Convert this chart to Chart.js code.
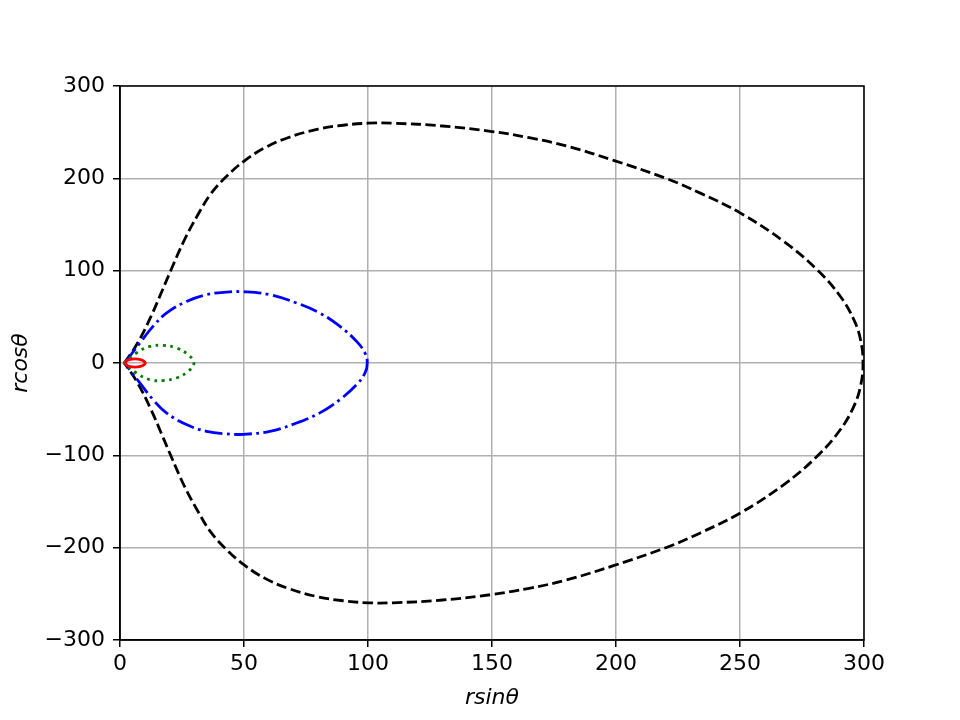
<!DOCTYPE html>
<html>
<head>
<meta charset="utf-8">
<script src="https://cdn.jsdelivr.net/npm/chart.js@4/dist/chart.umd.min.js"></script>
<style>
  html, body { margin: 0; padding: 0; background: #fff; }
  #wrap { width: 960px; height: 720px; }
</style>
</head>
<body>
<div id="wrap"><canvas id="c" width="960" height="720"></canvas></div>
<script>
// courbes r·sinθ / r·cosθ (moitié haute puis moitié basse)

const blackX = [1.8, 7.1, 12.5, 16.6, 20.6, 26, 31.4, 36.7, 43.5, 50.2, 58.3, 67.7, 79.8, 90, 100, 110, 130, 150, 165, 180, 199, 220.6, 234, 250.2, 267.7, 281.1, 290.5, 295.9, 298.6, 299.6,
                298.6, 295.9, 290.5, 281.1, 267.7, 250.2, 234, 220.6, 199, 180, 165, 150, 130, 110, 100, 90, 79.8, 67.7, 58.3, 50.2, 43.5, 36.7, 31.4, 26, 20.6, 16.6, 12.5, 7.1, 1.8];
const blackY = [0, 21.6, 50.4, 75.8, 101, 133.5, 160.5, 183.5, 203.5, 219, 233, 244, 253.2, 257.5, 259.7, 259.7, 256.7, 250.7, 244, 235, 219.5, 199.5, 184, 162.3, 131.6, 101, 72, 46.9, 25.2, 0,
                -25.2, -46.9, -72, -101, -131.6, -162.3, -184, -199.5, -219.5, -235, -244, -250.7, -256.7, -259.7, -259.7, -257.5, -253.2, -244, -233, -219, -203.5, -183.5, -160.5, -133.5, -101, -75.8, -50.4, -21.6, 0];

const blueX = [1.9, 8, 13.3, 18.7, 26.8, 34.9, 42.9, 49.7, 60.4, 71.2, 80.6, 88.7, 95.4, 98.8, 99.7,
               98.8, 95.4, 88.7, 80.6, 71.2, 60.4, 49.7, 42.9, 34.9, 26.8, 18.7, 13.3, 8, 1.9];
const blueY = [0, 21.6, 39.6, 54, 66.7, 74, 76.8, 77.2, 74, 65, 54, 39.6, 23.4, 10.8, 0,
               -10.8, -23.4, -39.6, -54, -65, -74, -77.2, -76.8, -74, -66.7, -54, -39.6, -21.6, 0];

const greenX = [1.5, 6.6, 12, 17.4, 22.8, 27.5, 29.8, 27.5, 22.8, 17.4, 12, 6.6, 1.5];
const greenY = [0, 10.8, 18, 19, 16.2, 9, 0, -9, -16.2, -19, -18, -10.8, 0];

const redX = [2, 3, 5, 7, 9, 10.2, 9, 7, 5, 3, 2];
const redY = [0, 3, 4.3, 4.3, 3, 0, -3, -4.3, -4.3, -3, 0];

const xTicks = [0, 50, 100, 150, 200, 250, 300];
const yTicks = [-300, -200, -100, 0, 100, 200, 300];

const pts = (xs, ys) => xs.map((x, i) => ({ x: x, y: ys[i] }));
const FONT = 'DejaVu Sans';

// cadre complet (haut + droite) comme matplotlib
const frame = {
  id: 'frame',
  afterDatasetsDraw(chart) {
    const a = chart.chartArea, ctx = chart.ctx;
    ctx.save();
    ctx.strokeStyle = '#000';
    ctx.lineWidth = 1.5;
    ctx.strokeRect(a.left, a.top, a.right - a.left, a.bottom - a.top);
    ctx.restore();
  }
};

const line = (data, color, dash) => ({
  data: data,
  showLine: true,
  borderColor: color,
  borderWidth: 2.8,
  borderDash: dash,
  pointRadius: 0,
  tension: 0.4,
  fill: false
});

new Chart(document.getElementById('c'), {
  type: 'scatter',
  data: {
    datasets: [
      line(pts(redX, redY), '#ff0000', []),
      line(pts(greenX, greenY), '#008000', [2.8, 4.6]),
      line(pts(blueX, blueY), '#0000ff', [17.8, 4.4, 2.8, 4.4]),
      line(pts(blackX, blackY), '#000000', [10.3, 4.4])
    ]
  },
  options: {
    responsive: false,
    animation: false,
    layout: { padding: { top: 86, right: 96, left: 0, bottom: 0 } },
    plugins: { legend: { display: false }, tooltip: { enabled: false } },
    scales: {
      x: {
        type: 'linear',
        min: 0, max: 300,
        afterFit: s => { s.height = 80; },
        afterBuildTicks: s => { s.ticks = xTicks.map(v => ({ value: v })); },
        ticks: { color: '#000', font: { family: FONT, size: 22 }, padding: 4, maxRotation: 0 },
        grid: { color: '#b0b0b0', lineWidth: 1.5, tickColor: '#000', tickLength: 7, tickWidth: 1.5 },
        border: { display: true, color: '#000', width: 1.5 },
        title: { display: true, text: 'rsinθ', color: '#000', font: { family: FONT, size: 22, style: 'italic' }, padding: { top: 0, bottom: 9 } }
      },
      y: {
        type: 'linear',
        min: -300, max: 300,
        afterFit: s => { s.width = 120; },
        afterBuildTicks: s => { s.ticks = yTicks.map(v => ({ value: v })); },
        ticks: { color: '#000', font: { family: FONT, size: 22 }, padding: 8,
                 callback: v => String(v).replace('-', '\u2212') },
        grid: { color: '#b0b0b0', lineWidth: 1.5, tickColor: '#000', tickLength: 7, tickWidth: 1.5 },
        border: { display: true, color: '#000', width: 1.5 },
        title: { display: true, text: 'rcosθ', color: '#000', font: { family: FONT, size: 22, style: 'italic' }, padding: { top: 8, bottom: 0 } }
      }
    }
  },
  plugins: [frame]
});
</script>
</body>
</html>
